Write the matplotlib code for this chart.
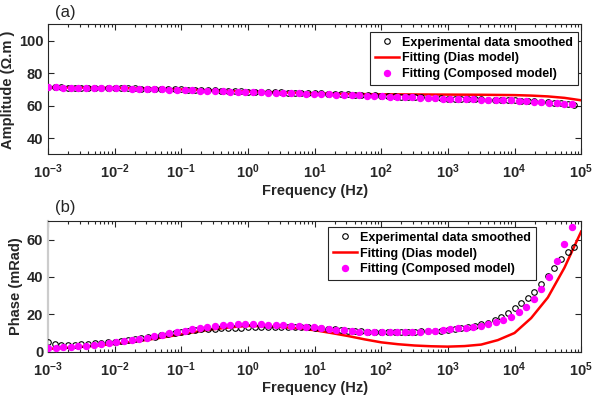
import numpy as np
import matplotlib
matplotlib.use("Agg")
import matplotlib.pyplot as plt
from matplotlib.ticker import FixedLocator, FixedFormatter, LogLocator, NullFormatter

plt.rcParams['font.family'] = ['Liberation Sans', 'DejaVu Sans']
plt.rcParams['mathtext.fontset'] = 'custom'
plt.rcParams['mathtext.rm'] = 'Liberation Sans:bold'
plt.rcParams['mathtext.bf'] = 'Liberation Sans:bold'
plt.rcParams['mathtext.it'] = 'Liberation Sans:bold'

TXT = '#262626'

# ---------------- data ----------------
# experimental (smoothed) data, 10 points per decade from 1e-3 to 10^4.9
exp_logf = np.linspace(-3.0, 4.9, 80)
exp_amp = [71.2, 71.2, 71.2, 71.1, 71.1, 71.1, 71.0, 71.0, 71.0, 70.9,
           70.8, 70.8, 70.7, 70.6, 70.5, 70.5, 70.4, 70.3, 70.2, 70.1,
           70.0, 69.9, 69.8, 69.6, 69.5, 69.4, 69.2, 69.1, 69.0, 68.8,
           68.7, 68.6, 68.5, 68.4, 68.3, 68.2, 68.1, 68.0, 67.9, 67.8,
           67.6, 67.5, 67.4, 67.2, 67.1, 66.9, 66.8, 66.6, 66.5, 66.3,
           66.1, 66.0, 65.8, 65.6, 65.5, 65.3, 65.1, 64.9, 64.7, 64.5,
           64.3, 64.2, 64.1, 64.0, 63.9, 63.8, 63.7, 63.6, 63.5, 63.4,
           63.2, 63.0, 62.8, 62.6, 62.3, 62.0, 61.7, 61.4, 61.0, 60.6]
exp_phase = [5.0, 4.0, 3.8, 3.6, 3.7, 3.9, 4.1, 4.4, 4.7, 5.0,
             5.3, 5.7, 6.1, 6.6, 7.1, 7.6, 8.1, 8.7, 9.3, 9.9,
             10.5, 11.0, 11.5, 11.9, 12.2, 12.4, 12.6, 12.7, 12.8, 12.9,
             13.0, 13.1, 13.1, 13.2, 13.2, 13.2, 13.3, 13.2, 13.1, 13.0,
             12.8, 12.5, 12.2, 11.9, 11.6, 11.3, 11.1, 10.9, 10.8, 10.7,
             10.7, 10.6, 10.6, 10.6, 10.7, 10.8, 10.9, 11.0, 11.1, 11.2,
             11.5, 12.0, 12.5, 13.1, 13.8, 14.6, 15.6, 17.0, 18.8, 20.9,
             23.2, 26.0, 28.6, 32.2, 36.1, 40.5, 45.0, 49.6, 53.2, 56.2]

# composed model fit points
comp_logf = np.linspace(-3.0, 4.86, 70)
comp_amp = [71.2, 71.2, 71.1, 71.1, 71.0, 71.0, 70.9, 70.9, 70.8, 70.7,
            70.6, 70.5, 70.4, 70.3, 70.2, 70.0, 69.9, 69.8, 69.6, 69.5,
            69.3, 69.2, 69.0, 68.9, 68.7, 68.6, 68.4, 68.3, 68.2, 68.1,
            67.9, 67.8, 67.7, 67.6, 67.4, 67.3, 67.1, 67.0, 66.8, 66.7,
            66.5, 66.3, 66.2, 66.0, 65.8, 65.6, 65.5, 65.3, 65.1, 64.9,
            64.7, 64.5, 64.3, 64.2, 64.0, 63.9, 63.8, 63.7, 63.6, 63.5,
            63.4, 63.2, 63.0, 62.8, 62.5, 62.2, 61.9, 61.6, 61.2, 60.8]
comp_phase = [1.8, 2.0, 2.3, 2.6, 3.0, 3.3, 3.7, 4.1, 4.5, 5.0,
              5.6, 6.2, 6.8, 7.5, 8.2, 9.0, 9.8, 10.6, 11.3, 12.0,
              12.7, 13.3, 13.8, 14.2, 14.5, 14.7, 14.8, 14.7, 14.6, 14.5,
              14.5, 14.3, 14.0, 13.7, 13.3, 13.0, 12.6, 12.2, 11.8, 11.4,
              11.1, 10.8, 10.6, 10.5, 10.4, 10.4, 10.4, 10.5, 10.6, 10.8,
              11.0, 11.3, 11.6, 12.2, 12.5, 12.9, 13.4, 13.9, 14.6, 15.7,
              16.9, 18.4, 21.0, 24.1, 28.2, 33.4, 40.2, 48.6, 57.7, 67.0]

# Dias model fit curve
dias_amp_logf = [-3.0, -2.5, -2.0, -1.5, -1.0, -0.5, 0.0, 0.5, 1.0, 1.5,
                 2.0, 2.5, 3.0, 3.5, 4.0, 4.25, 4.5, 4.75, 5.0]
dias_amp = [71.2, 71.1, 70.9, 70.5, 70.0, 69.3, 68.7, 68.1, 67.6, 67.2,
            67.0, 66.9, 66.8, 66.7, 66.5, 66.2, 65.7, 64.8, 63.3]
dias_ph_logf = [-3.0, -2.75, -2.5, -2.25, -2.0, -1.75, -1.5, -1.25, -1.0, -0.75,
                -0.5, -0.25, 0.0, 0.25, 0.5, 0.75, 1.0, 1.25, 1.5, 1.75,
                2.0, 2.25, 2.5, 2.75, 3.0, 3.25, 3.5, 3.75, 4.0, 4.25,
                4.5, 4.75, 5.0]
dias_phase = [1.5, 2.0, 2.6, 3.3, 4.2, 5.2, 6.4, 7.8, 9.3, 10.8,
              12.1, 13.1, 13.8, 13.6, 13.2, 12.5, 11.5, 10.0, 8.4, 6.6,
              5.0, 4.0, 3.3, 2.9, 2.7, 3.0, 3.8, 6.2, 10.0, 18.0,
              29.0, 45.0, 64.3]

xtick_vals = [1e-3, 1e-2, 1e-1, 1e0, 1e1, 1e2, 1e3, 1e4, 1e5]
xtick_labels = [r'$10^{-3}$', r'$10^{-2}$', r'$10^{-1}$', r'$10^{0}$', r'$10^{1}$',
                r'$10^{2}$', r'$10^{3}$', r'$10^{4}$', r'$10^{5}$']
legend_labels = ['Experimental data smoothed', 'Fitting (Dias model)', 'Fitting (Composed model)']

# ---------------- figure ----------------
fig = plt.figure(figsize=(5.93, 4.01), dpi=100)
ax1 = fig.add_axes([0.081, 0.615, 0.899, 0.324])
ax2 = fig.add_axes([0.081, 0.123, 0.899, 0.326])


def style(ax, ylim, yticks):
    ax.set_xscale('log')
    ax.set_xlim(1e-3, 1e5)
    ax.set_ylim(*ylim)
    ax.set_yticks(yticks)
    ax.xaxis.set_major_locator(FixedLocator(xtick_vals))
    ax.xaxis.set_major_formatter(FixedFormatter(xtick_labels))
    ax.xaxis.set_minor_locator(LogLocator(base=10, subs=np.arange(2, 10), numticks=20))
    ax.xaxis.set_minor_formatter(NullFormatter())
    ax.tick_params(which='both', direction='in', top=True, right=True, colors=TXT,
                   labelsize=10.5, width=0.8)
    ax.tick_params(which='major', length=4)
    ax.tick_params(which='minor', length=2)
    ax.tick_params(axis='x', pad=6)
    for lab in ax.get_yticklabels():
        lab.set_fontweight('bold')
    for sp in ax.spines.values():
        sp.set_color(TXT)
        sp.set_linewidth(0.8)
    ax.set_xlabel('Frequency (Hz)', fontsize=10.5, fontweight='bold', color=TXT, labelpad=2)


def draw(ax, ex, ey, dx, dy, cx, cy):
    h1, = ax.plot(10 ** np.asarray(ex), ey, 'o', ms=4, mfc='none', mec='black', mew=0.8,
                  label=legend_labels[0], zorder=3)
    h2, = ax.plot(10 ** np.asarray(dx), dy, '-', color='#ff0000', lw=1.8,
                  label=legend_labels[1], zorder=2)
    h3, = ax.plot(10 ** np.asarray(cx), cy, 'o', ms=4.3, mfc='#ff00ff', mec='#ff00ff',
                  label=legend_labels[2], zorder=4)
    return [h1, h2, h3]


def make_legend(ax, handles, loc, anchor):
    leg = ax.legend(handles=handles, loc=loc, bbox_to_anchor=anchor,
                    fontsize=9, frameon=True, fancybox=False, framealpha=1,
                    edgecolor=TXT, borderpad=0.4, labelspacing=0.3, handlelength=1.9,
                    handletextpad=0.25, borderaxespad=0)
    leg.get_frame().set_linewidth(0.8)
    for t in leg.get_texts():
        t.set_fontweight('bold')
        t.set_color('black')
    return leg


hs = draw(ax1, exp_logf, exp_amp, dias_amp_logf, dias_amp, comp_logf, comp_amp)
style(ax1, (30, 110), [40, 60, 80, 100])
ax1.set_ylabel('Amplitude (Ω.m )', fontsize=10.5, fontweight='bold', color=TXT, labelpad=3)
make_legend(ax1, hs, 'upper right', (0.994, 0.945))

hs2 = draw(ax2, exp_logf, exp_phase, dias_ph_logf, dias_phase, comp_logf, comp_phase)
style(ax2, (0, 70), [0, 20, 40, 60])
ax2.spines['left'].set_color('#cccccc')
ax2.spines['left'].set_linewidth(1.6)
ax2.set_ylabel('Phase (mRad)', fontsize=10.5, fontweight='bold', color=TXT, labelpad=3)
make_legend(ax2, hs2, 'upper left', (0.525, 0.955))

fig.text(0.093, 0.968, '(a)', fontsize=12, color=TXT, va='center', ha='left')
fig.text(0.093, 0.483, '(b)', fontsize=12, color=TXT, va='center', ha='left')

fig.savefig('out.png', dpi=100)
